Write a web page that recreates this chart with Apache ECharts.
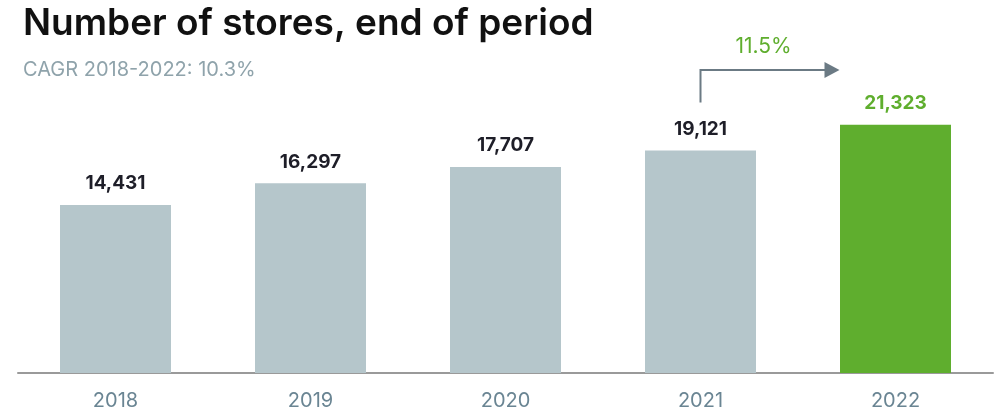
<!DOCTYPE html>
<html>
<head>
<meta charset="utf-8">
<script src="https://cdn.jsdelivr.net/npm/echarts@6/dist/echarts.min.js"></script>
<style>
  html, body { margin: 0; padding: 0; background: #fff; }
  #chart { width: 1000px; height: 414px; }
</style>
</head>
<body>
<div id="chart"></div>
<script>
var years = ['2018', '2019', '2020', '2021', '2022'];
var stores = [14431, 16297, 17707, 19121, 21323];
var yoyGrowth = '11.5%';
var cagrText = 'CAGR 2018-2022: 10.3%';

var grey = '#b5c6cb';
var green = '#5fae2e';
var font = 'Inter, "Open Sans", sans-serif';

var myChart = echarts.init(document.getElementById('chart'));
myChart.setOption({
    animation: false,
    title: {
        text: 'Number of stores, end of period',
        subtext: cagrText,
        left: 18,
        top: 0,
        itemGap: 18,
        textStyle: {
            fontFamily: font,
            fontSize: 37,
            fontWeight: 600,
            color: '#111'
        },
        subtextStyle: {
            fontFamily: font,
            fontSize: 20,
            color: '#8fa3ab'
        }
    },
    grid: {
        left: 18,
        right: 7,
        top: 82,
        bottom: 41
    },
    xAxis: {
        type: 'category',
        data: years,
        axisTick: { show: false },
        axisLine: { lineStyle: { color: '#9a9a9a', width: 2 } },
        axisLabel: {
            margin: 18,
            fontFamily: font,
            fontSize: 20,
            color: '#6a8593'
        }
    },
    yAxis: {
        type: 'value',
        min: 0,
        max: 25000,
        show: false,
        splitLine: { show: false }
    },
    series: [{
        type: 'bar',
        barWidth: 111,
        data: stores.map(function (v, i) {
            var last = i === stores.length - 1;
            return {
                value: v,
                itemStyle: { color: last ? green : grey },
                label: { color: last ? green : '#1e1e28' }
            };
        }),
        label: {
            show: true,
            position: 'top',
            distance: 12,
            fontFamily: font,
            fontSize: 19,
            fontWeight: 700,
            formatter: function (p) {
                return p.value.toLocaleString('en-US');
            }
        }
    }]
});

// growth arrow from 2021 to 2022
var p1 = myChart.convertToPixel({ xAxisIndex: 0, yAxisIndex: 0 }, [years[3], stores[3]]);
var p2 = myChart.convertToPixel({ xAxisIndex: 0, yAxisIndex: 0 }, [years[4], stores[4]]);
var arrowY = 70;
var arrowEnd = p2[0] - 56;
myChart.setOption({
    graphic: [
        {
            type: 'polyline',
            shape: { points: [[p1[0], p1[1] - 48], [p1[0], arrowY], [arrowEnd - 14, arrowY]] },
            style: { stroke: '#6b7a84', lineWidth: 2, fill: null }
        },
        {
            type: 'polygon',
            shape: { points: [[arrowEnd - 15, arrowY - 8], [arrowEnd, arrowY], [arrowEnd - 15, arrowY + 8]] },
            style: { fill: '#6b7a84' }
        },
        {
            type: 'text',
            x: p1[0] + 63,
            y: 47,
            style: {
                text: yoyGrowth,
                fontFamily: font,
                fontSize: 21,
                fill: green,
                align: 'center',
                verticalAlign: 'middle'
            }
        }
    ]
});
</script>
</body>
</html>
